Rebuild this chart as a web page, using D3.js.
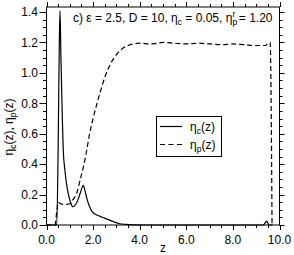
<!DOCTYPE html>
<html>
<head>
<meta charset="utf-8">
<script src="https://cdn.jsdelivr.net/npm/d3@7/dist/d3.min.js"></script>
<style>
body { margin: 0; background: #fff; }
svg text { font-family: "Liberation Sans", Arial, sans-serif; fill: #000; }
</style>
</head>
<body>
<div id="chart"></div>
<script>
// eta_c(z), solid line
var zC   = [0, 0.44, 0.50, 0.55, 0.58, 0.62, 0.68, 0.72, 0.79, 0.86, 0.93, 1.03, 1.13, 1.25, 1.36, 1.47, 1.58, 1.66, 1.74, 1.85, 1.95, 2.1, 2.3, 2.5, 2.7, 2.9, 3.1, 3.4, 3.8, 4.2, 9.3, 9.45, 9.55, 9.7];
var etaC = [0, 0, 0.5, 1.2, 1.41, 1.1, 0.7, 0.49, 0.36, 0.27, 0.21, 0.15, 0.12, 0.135, 0.17, 0.22, 0.26, 0.22, 0.17, 0.12, 0.09, 0.07, 0.057, 0.045, 0.032, 0.02, 0.01, 0.004, 0.001, 0, 0, 0.025, 0, 0];

// eta_p(z), dashed line
var zP   = [0, 0.36, 0.45, 0.5, 0.6, 0.8, 1.0, 1.15, 1.3, 1.45, 1.58, 1.7, 1.85, 2.0, 2.15, 2.3, 2.5, 2.75, 3.0, 3.3, 3.6, 4.0, 4.5, 5.0, 5.5, 6.0, 6.5, 7.0, 7.5, 8.0, 8.5, 9.0, 9.4, 9.55, 9.6, 9.68];
var etaP = [0, 0, 0.1, 0.15, 0.14, 0.135, 0.14, 0.17, 0.21, 0.3, 0.38, 0.47, 0.6, 0.7, 0.79, 0.87, 0.97, 1.06, 1.12, 1.165, 1.185, 1.195, 1.19, 1.2, 1.195, 1.19, 1.195, 1.19, 1.185, 1.19, 1.185, 1.18, 1.18, 1.2, 1.2, 0];

var xTicks = [0, 2, 4, 6, 8, 10];
var yTicks = [0, 0.2, 0.4, 0.6, 0.8, 1.0, 1.2, 1.4];

var width = 294,
	height = 255;
var pLeft = 46.5, pRight = 279.5, pTop = 7, pBottom = 225;

var x = d3.scaleLinear().domain([0, 10]).range([pLeft, pRight]);
var y = d3.scaleLinear().domain([0, 1.433]).range([pBottom, pTop]);

var svg = d3.select("#chart")
	.append("svg")
	.attr("width", width)
	.attr("height", height);

// minor ticks
var xMinor = d3.range(0, 10.01, 0.5);
var yMinor = d3.range(0, 1.43, 0.05);

function tickLen(v, step) { return Math.abs(v / step - Math.round(v / step)) < 1e-6 ? 5 : 3; }

var g = svg.append("g").attr("stroke", "#000").attr("stroke-width", 1);

xMinor.forEach(function(v) {
	var px = Math.round(x(v)) + 0.5, L = tickLen(v, 2);
	g.append("line").attr("x1", px).attr("x2", px).attr("y1", pBottom).attr("y2", pBottom + L);
	g.append("line").attr("x1", px).attr("x2", px).attr("y1", pTop).attr("y2", pTop - L);
});
yMinor.forEach(function(v) {
	var py = Math.round(y(v)) + 0.5, L = tickLen(v, 0.2);
	g.append("line").attr("x1", pLeft).attr("x2", pLeft - (L == 5 ? 7 : 3.5)).attr("y1", py).attr("y2", py);
	g.append("line").attr("x1", pRight).attr("x2", pRight + L).attr("y1", py).attr("y2", py);
});

// frame
svg.append("rect")
	.attr("x", pLeft).attr("y", pTop)
	.attr("width", pRight - pLeft).attr("height", pBottom - pTop)
	.attr("fill", "none").attr("stroke", "#000").attr("stroke-width", 1);

// tick labels
svg.selectAll("text.xt")
	.data(xTicks)
	.enter().append("text")
	.attr("class", "xt")
	.attr("x", function(d) { return x(d); })
	.attr("y", 243.5)
	.attr("text-anchor", "middle")
	.style("font-size", "12px")
	.text(function(d) { return d.toFixed(1); });

svg.selectAll("text.yt")
	.data(yTicks)
	.enter().append("text")
	.attr("class", "yt")
	.attr("x", 38)
	.attr("y", function(d) { return y(d) + 4.3; })
	.attr("text-anchor", "end")
	.style("font-size", "12px")
	.text(function(d) { return d.toFixed(1); });

// curves
var line = d3.line()
	.x(function(d) { return x(d[0]); })
	.y(function(d) { return y(d[1]); })
	.curve(d3.curveMonotoneX);

svg.append("path")
	.datum(d3.zip(zC, etaC))
	.attr("d", line)
	.attr("fill", "none")
	.attr("stroke", "#000")
	.attr("stroke-width", 1.2);

svg.append("path")
	.datum(d3.zip(zP, etaP))
	.attr("d", line)
	.attr("fill", "none")
	.attr("stroke", "#000")
	.attr("stroke-width", 1.2)
	.attr("stroke-dasharray", "5,3");

// annotation
var ann = svg.append("text")
	.attr("x", 73)
	.attr("y", 22)
	.style("font-size", "12px");
ann.append("tspan").text("c) \u03b5 = 2.5, D = 10, \u03b7");
ann.append("tspan").attr("dy", 2.5).style("font-size", "8.5px").text("c");
ann.append("tspan").attr("dy", -2.5).text(" = 0.05, \u03b7");
ann.append("tspan").attr("dy", 2.5).style("font-size", "8.5px").text("p");
ann.append("tspan").attr("dx", -4.5).attr("dy", -7.5).style("font-size", "8.5px").text("r");
ann.append("tspan").attr("dy", 5).text(" = 1.20");

// legend
var leg = svg.append("g");
leg.append("rect")
	.attr("x", 156.5).attr("y", 116.5)
	.attr("width", 65).attr("height", 40)
	.attr("fill", "#fff").attr("stroke", "#000");
leg.append("line")
	.attr("x1", 160).attr("x2", 182).attr("y1", 126.5).attr("y2", 126.5)
	.attr("stroke", "#000").attr("stroke-width", 1.2);
leg.append("line")
	.attr("x1", 160).attr("x2", 182).attr("y1", 144.5).attr("y2", 144.5)
	.attr("stroke", "#000").attr("stroke-width", 1.2)
	.attr("stroke-dasharray", "5,3.5");

function subLabel(sel, yy, sub) {
	var t = sel.append("text").attr("x", 190).attr("y", yy).style("font-size", "12px");
	t.append("tspan").text("\u03b7");
	t.append("tspan").attr("dy", 3).style("font-size", "8.5px").text(sub);
	t.append("tspan").attr("dy", -3).text("(z)");
}
subLabel(leg, 131, "c");
subLabel(leg, 149, "p");

// axis titles
svg.append("text")
	.attr("x", 163)
	.attr("y", 252)
	.attr("text-anchor", "middle")
	.style("font-size", "12px")
	.text("z");

var yt = svg.append("text")
	.attr("transform", "translate(13,127) rotate(-90)")
	.attr("text-anchor", "middle")
	.style("font-size", "12px");
yt.append("tspan").text("\u03b7");
yt.append("tspan").attr("dy", 3).style("font-size", "8.5px").text("c");
yt.append("tspan").attr("dy", -3).text("(z), \u03b7");
yt.append("tspan").attr("dy", 3).style("font-size", "8.5px").text("p");
yt.append("tspan").attr("dy", -3).text("(z)");
</script>
</body>
</html>
